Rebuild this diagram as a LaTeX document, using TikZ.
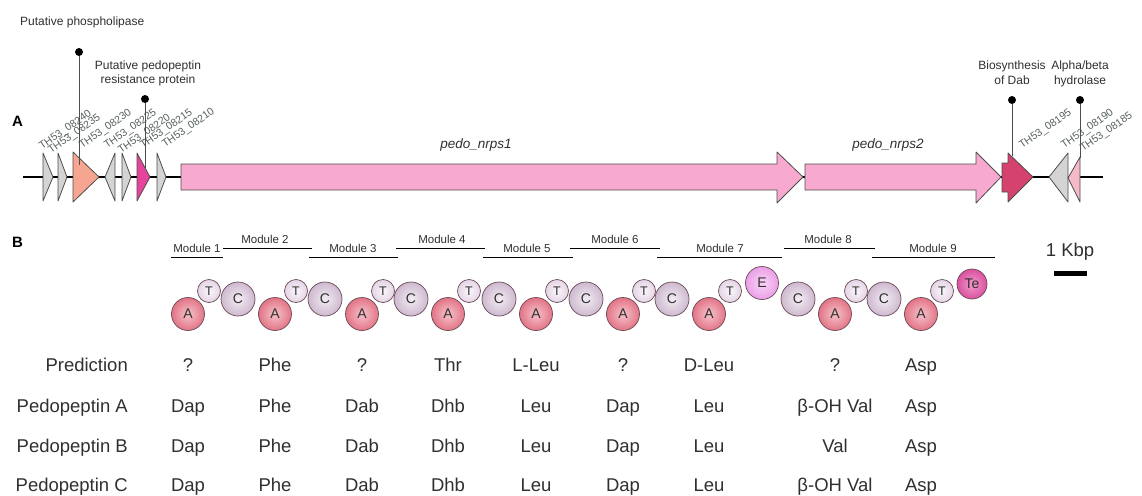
\documentclass[tikz,border=0pt]{standalone}
\usepackage{fontspec}
\setmainfont{Liberation Sans}
\definecolor{ggray}{HTML}{D4D4D4}
\definecolor{gline}{HTML}{4D4D4D}
\definecolor{gsalmon}{HTML}{F6A590}
\definecolor{gmag}{HTML}{E6449B}
\definecolor{gnrps}{HTML}{F8A9D0}
\definecolor{gdab}{HTML}{D6426E}
\definecolor{gpinksm}{HTML}{F5B9C9}
\definecolor{lbl}{HTML}{56625A}
\definecolor{txt}{HTML}{303030}
\definecolor{aIn}{HTML}{F6C3CB}
\definecolor{aOut}{HTML}{E27486}
\definecolor{cIn}{HTML}{F3ECF3}
\definecolor{cOut}{HTML}{CDB9CF}
\definecolor{tIn}{HTML}{FBF6FB}
\definecolor{tOut}{HTML}{E3D4E5}
\definecolor{eIn}{HTML}{FAD6F8}
\definecolor{eOut}{HTML}{EA9EE6}
\definecolor{teIn}{HTML}{F39ACB}
\definecolor{teOut}{HTML}{D9519F}
\definecolor{domline}{HTML}{6A4A55}
\tikzset{
  gene/.style={draw=gline, line width=0.8pt, line join=round},
  backbone/.style={line width=2pt, black},
  genelbl/.style={rotate=35, anchor=base west, inner sep=0pt, text=lbl, font=\fontsize{10.5}{10.5}\selectfont},
  nrpslbl/.style={anchor=base, inner sep=0pt, text=txt, font=\fontsize{13.5}{13.5}\selectfont\itshape},
  annot/.style={inner sep=0pt, text=txt, font=\fontsize{12}{12}\selectfont},
  pindot/.style={circle, fill=black, minimum size=8pt, inner sep=0pt},
  pinline/.style={line width=1pt, gline},
  panel/.style={anchor=base west, inner sep=0pt, font=\fontsize{15}{15}\selectfont\bfseries},
  modlbl/.style={anchor=base, inner sep=0pt, text=txt, font=\fontsize{11.5}{11.5}\selectfont},
  modline/.style={line width=1pt, black},
  dom/.style={circle, draw=domline, line width=0.7pt, inner sep=0pt, text=txt, font=\fontsize{14}{14}\selectfont},
  domA/.style={dom, minimum size=33pt, inner color=aIn, outer color=aOut},
  domC/.style={dom, minimum size=34pt, inner color=cIn, outer color=cOut},
  domT/.style={dom, minimum size=23pt, inner color=tIn, outer color=tOut, font=\fontsize{12.5}{12.5}\selectfont},
  domE/.style={dom, minimum size=33pt, inner color=eIn, outer color=eOut},
  domTe/.style={dom, minimum size=30pt, inner color=teIn, outer color=teOut},
  rowlbl/.style={anchor=base east, inner sep=0pt, text=txt, font=\fontsize{18.5}{18.5}\selectfont},
  cell/.style={anchor=base, inner sep=0pt, text=txt, font=\fontsize{18.5}{18.5}\selectfont},
}
\begin{document}
\begin{tikzpicture}[x=1pt,y=-1pt]
\useasboundingbox (0,0) rectangle (1142,495);
\fill[white] (0,0) rectangle (1142,495);

% ---------- panel A : gene cluster ----------
\node[panel] (lblA) at (12,126.5) {A};
\coordinate (bbL) at (23,177);
\coordinate (bbR) at (1103,177);
\draw[backbone] (bbL) -- (bbR);

\filldraw[gene, fill=ggray] (43,153) -- (53,177) -- (43,201) -- cycle;
\filldraw[gene, fill=ggray] (58,153) -- (67,177) -- (58,201) -- cycle;
\filldraw[gene, fill=gsalmon] (73,152) -- (99,177) -- (73,202) -- cycle;
\filldraw[gene, fill=ggray] (115,153) -- (105,177) -- (115,201) -- cycle;
\filldraw[gene, fill=ggray] (122,153) -- (131,177) -- (122,201) -- cycle;
\filldraw[gene, fill=gmag] (137,153) -- (150,177) -- (137,201) -- cycle;
\filldraw[gene, fill=ggray] (157,153) -- (166,177) -- (157,201) -- cycle;
\filldraw[gene, fill=gnrps] (181,164) -- (777,164) -- (777,152) -- (803,177) -- (777,203) -- (777,190) -- (181,190) -- cycle;
\filldraw[gene, fill=gnrps] (805,164) -- (976,164) -- (976,152) -- (1001,177) -- (976,203) -- (976,190) -- (805,190) -- cycle;
\filldraw[gene, fill=gdab] (1002,163) -- (1008,163) -- (1008,153) -- (1033,177) -- (1008,202) -- (1008,192) -- (1002,192) -- cycle;
\filldraw[gene, fill=ggray] (1068,153) -- (1049,177) -- (1068,202) -- cycle;
\filldraw[gene, fill=gpinksm] (1080,157) -- (1068,178) -- (1080,202) -- cycle;

\node[genelbl] (g1) at (42,150) {TH53\_08240};
\node[genelbl] (g2) at (51,154) {TH53\_08235};
\node[genelbl] (g3) at (82,149) {TH53\_08230};
\node[genelbl] (g4) at (107,149) {TH53\_08225};
\node[genelbl] (g5) at (121,154) {TH53\_08220};
\node[genelbl] (g6) at (143,149) {TH53\_08215};
\node[genelbl] (g7) at (165,148) {TH53\_08210};
\node[genelbl] (g8) at (1022,149) {TH53\_08195};
\node[genelbl] (g9) at (1064,149) {TH53\_08190};
\node[genelbl] (g10) at (1083,152) {TH53\_08185};

\node[nrpslbl] (n1) at (476,148) {pedo\_nrps1};
\node[nrpslbl] (n2) at (888,148) {pedo\_nrps2};

% pins
\node[annot, anchor=base west] (t1) at (20,25.5) {Putative phospholipase};
\node[annot, anchor=base] (t2a) at (148,70) {Putative pedopeptin};
\node[annot, anchor=base] (t2b) at (148,83.5) {resistance protein};
\node[annot, anchor=base] (t3a) at (1012,69.5) {Biosynthesis};
\node[annot, anchor=base] (t3b) at (1012,84.5) {of Dab};
\node[annot, anchor=base] (t4a) at (1080,69.5) {Alpha/beta};
\node[annot, anchor=base] (t4b) at (1080,84.5) {hydrolase};

\node[pindot] (p1) at (79,52) {};
\node[pindot] (p2) at (145,99) {};
\node[pindot] (p3) at (1012,100) {};
\node[pindot] (p4) at (1080,100) {};
\coordinate (p1b) at (79,165);
\coordinate (p2b) at (145,168);
\coordinate (p3b) at (1012,156);
\coordinate (p4b) at (1080,158);
\draw[pinline] (p1) -- (p1b);
\draw[pinline] (p2) -- (p2b);
\draw[pinline] (p3) -- (p3b);
\draw[pinline] (p4) -- (p4b);

% scale bar
\node[cell] (kbp) at (1070,256.5) {1 Kbp};
\fill[black] (1054,270.5) rectangle (1087,275.5);

% ---------- panel B : modules ----------
\node[panel] (lblB) at (12,247.5) {B};
\node[modlbl] (m1) at (197,252) {Module 1};
\node[modlbl] (m2) at (265,243) {Module 2};
\node[modlbl] (m3) at (353,252) {Module 3};
\node[modlbl] (m4) at (442,243) {Module 4};
\node[modlbl] (m5) at (527,252) {Module 5};
\node[modlbl] (m6) at (615,243) {Module 6};
\node[modlbl] (m7) at (720,252) {Module 7};
\node[modlbl] (m8) at (828,243) {Module 8};
\node[modlbl] (m9) at (933,252) {Module 9};
\draw[modline] (171,257) -- (223,257);
\draw[modline] (223,248) -- (312,248);
\draw[modline] (309,257) -- (398,257);
\draw[modline] (396,248) -- (485,248);
\draw[modline] (483,257) -- (573,257);
\draw[modline] (570,248) -- (660,248);
\draw[modline] (657,257) -- (782,257);
\draw[modline] (784,248) -- (875,248);
\draw[modline] (872,257) -- (995,257);

% C domains
\node[domC] (c2) at (238,299) {C};
\node[domC] (c3) at (325,299) {C};
\node[domC] (c4) at (411,299) {C};
\node[domC] (c5) at (499,299) {C};
\node[domC] (c6) at (586,299) {C};
\node[domC] (c7) at (672,299) {C};
\node[domC] (c8) at (798,299) {C};
\node[domC] (c9) at (884,299) {C};
% A domains
\node[domA] (a1) at (188,314) {A};
\node[domA] (a2) at (275,314) {A};
\node[domA] (a3) at (362,314) {A};
\node[domA] (a4) at (448,314) {A};
\node[domA] (a5) at (536,314) {A};
\node[domA] (a6) at (623,314) {A};
\node[domA] (a7) at (709,314) {A};
\node[domA] (a8) at (835,314) {A};
\node[domA] (a9) at (921,314) {A};
% T domains
\node[domT] (t1d) at (209,291) {T};
\node[domT] (t2d) at (296,291) {T};
\node[domT] (t3d) at (383,291) {T};
\node[domT] (t4d) at (469,291) {T};
\node[domT] (t5d) at (557,291) {T};
\node[domT] (t6d) at (644,291) {T};
\node[domT] (t7d) at (730,291) {T};
\node[domT] (t8d) at (856,291) {T};
\node[domT] (t9d) at (942,291) {T};
\node[domE] (e7) at (762,283) {E};
\node[domTe] (te9) at (972,284) {Te};

% ---------- table ----------
\node[rowlbl] (r1) at (128,371.5) {Prediction};
\node[rowlbl] (r2) at (128,412) {Pedopeptin A};
\node[rowlbl] (r3) at (128,452) {Pedopeptin B};
\node[rowlbl] (r4) at (128,491) {Pedopeptin C};

\foreach \x/\s [count=\i] in {188/?,275/Phe,362/?,448/Thr,536/L-Leu,623/?,709/D-Leu,835/?,921/Asp}
  \node[cell] (p\i) at (\x,371.5) {\s};
\foreach \x/\s [count=\i] in {188/Dap,275/Phe,362/Dab,448/Dhb,536/Leu,623/Dap,709/Leu,835/β-OH Val,921/Asp}
  \node[cell] (qa\i) at (\x,412) {\s};
\foreach \x/\s [count=\i] in {188/Dap,275/Phe,362/Dab,448/Dhb,536/Leu,623/Dap,709/Leu,835/Val,921/Asp}
  \node[cell] (qb\i) at (\x,452) {\s};
\foreach \x/\s [count=\i] in {188/Dap,275/Phe,362/Dab,448/Dhb,536/Leu,623/Dap,709/Leu,835/β-OH Val,921/Asp}
  \node[cell] (qc\i) at (\x,491) {\s};
\end{tikzpicture}
\end{document}
